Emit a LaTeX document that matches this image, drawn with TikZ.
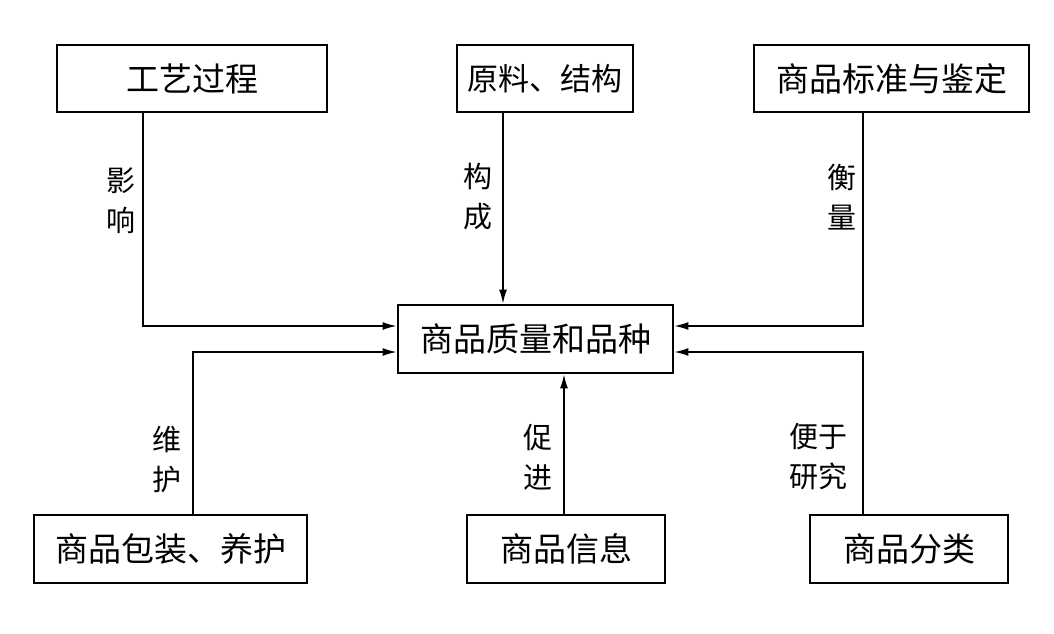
\documentclass[tikz,border=0pt]{standalone}
\usepackage{fontspec}
\newfontfamily\cjk{Noto Sans CJK SC}
\usetikzlibrary{arrows.meta}
\tikzset{
  box/.style={draw, line width=2.8pt, minimum height=67pt, inner sep=0pt, font=\cjk\fontsize{33}{38}\selectfont},
  lab/.style={align=center, inner sep=0pt, font=\cjk\fontsize{29}{40}\selectfont},
  arr/.style={line width=1.5pt, -{Latex[length=14pt,width=8pt]}},
  ln/.style={line width=1.5pt}
}
\begin{document}
\begin{tikzpicture}[x=1pt,y=-1pt]
\useasboundingbox (0,0) rectangle (1054,634);
\fill[white] (0,0) rectangle (1054,634);
\node[box, minimum width=270pt] (A) at (192,78.5) {工艺过程};
\node[box, minimum width=176pt, font=\cjk\fontsize{31}{36}\selectfont] (B) at (545,78.5) {原料、结构};
\node[box, minimum width=275pt] (C) at (891.5,78.5) {商品标准与鉴定};
\node[box, minimum width=275pt, minimum height=68pt] (M) at (535.5,339) {商品质量和品种};
\node[box, minimum width=273pt, minimum height=68pt] (D) at (170.5,549) {商品包装、养护};
\node[box, minimum width=198pt, minimum height=68pt] (E) at (566,549) {商品信息};
\node[box, minimum width=198pt, minimum height=68pt] (F) at (909,549) {商品分类};

\draw[arr] ([xshift=-49pt]A.south) |- ([yshift=13pt]M.west);
\draw[arr] ([xshift=-42pt]B.south) -- ([xshift=-42pt]B.south |- M.north);
\draw[arr] ([xshift=-28.5pt]C.south) |- ([yshift=13pt]M.east);
\draw[arr] ([xshift=22.5pt]D.north) |- ([yshift=-13pt]M.west);
\draw[arr] ([xshift=-2pt]E.north) -- ([xshift=-2pt]E.north |- M.south);
\draw[arr] ([xshift=-46pt]F.north) |- ([yshift=-13pt]M.east);

\node[lab] (l1) at (121,201) {影\\响};
\node[lab] (l2) at (478,197) {构\\成};
\node[lab] (l3) at (842,197) {衡\\量};
\node[lab] (l4) at (167,460) {维\\护};
\node[lab] (l5) at (538,457) {促\\进};
\node[lab] (l6) at (818,457) {便于\\研究};
\end{tikzpicture}
\end{document}
